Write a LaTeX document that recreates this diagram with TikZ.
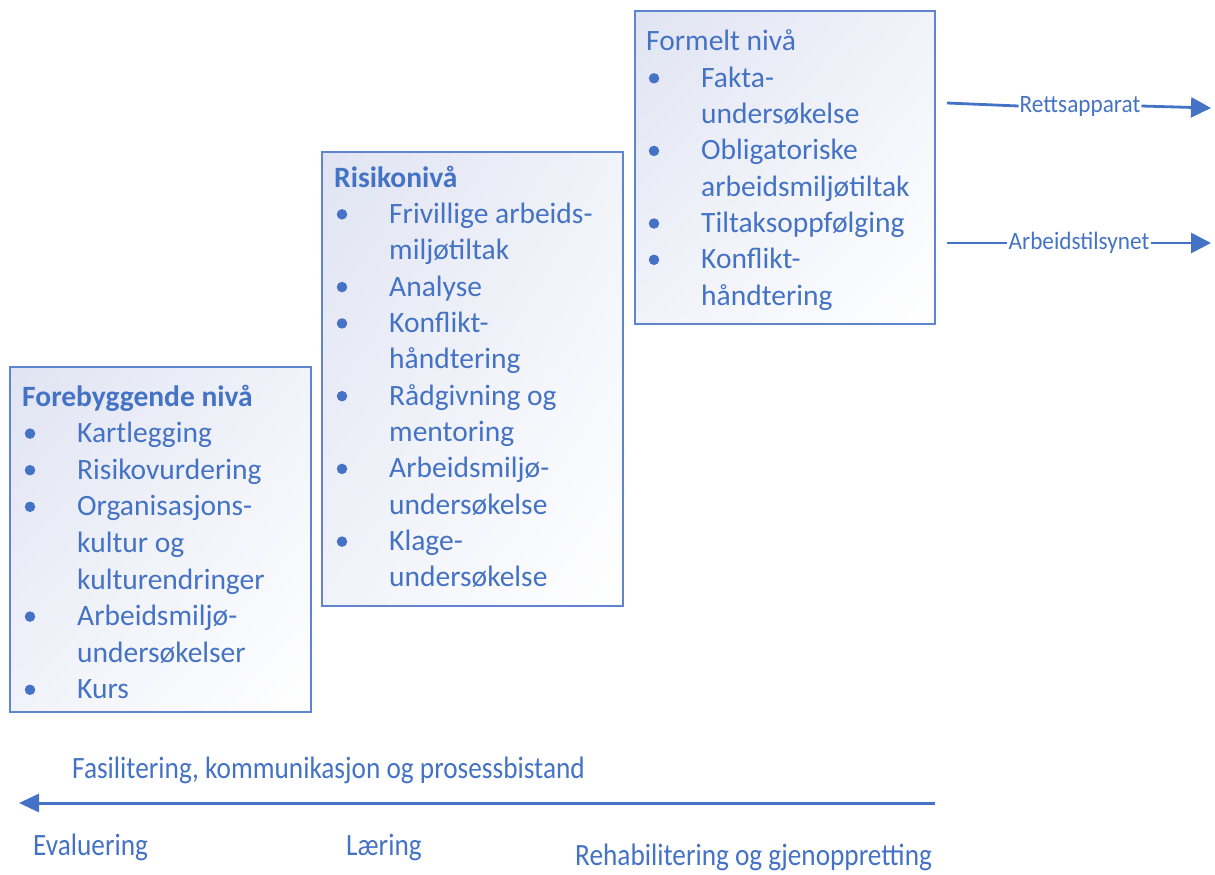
\documentclass[tikz,border=0pt]{standalone}
\usepackage{fontspec}
\setmainfont{Carlito}
\usetikzlibrary{arrows.meta,shadings}
\definecolor{tblue}{RGB}{68,114,196}
\definecolor{bline}{RGB}{96,132,208}
\definecolor{shadeA}{RGB}{224,228,242}
\definecolor{shadeB}{RGB}{241,243,250}
\tikzset{
  lvbox/.style={draw=bline, line width=2.6pt, upper left=shadeA, upper right=shadeB, lower left=shadeB, lower right=white},
  boxtext/.style={anchor=base west, inner sep=0pt, text=tblue, font=\fontsize{29.5}{36}\selectfont},
  bul/.style={circle, fill=tblue, inner sep=0pt, minimum size=10.5pt},
  sidetext/.style={text=tblue, inner sep=1pt, font=\fontsize{25}{30}\selectfont},
  bottomtext/.style={anchor=base west, inner sep=0pt, text=tblue, font=\fontsize{31}{36}\selectfont},
  flow/.style={draw=tblue, line width=2.8pt},
}
\begin{document}
\begin{tikzpicture}[x=1pt,y=-1pt]
\useasboundingbox (0,0) rectangle (1215,875);
% boxes
\path[lvbox] (10,367) rectangle (311,712);
\node[inner sep=0pt, minimum width=301pt, minimum height=345pt] (box1) at (160.5,539.5) {};
\path[lvbox] (322,152) rectangle (623,606);
\node[inner sep=0pt, minimum width=301pt, minimum height=454pt] (box2) at (472.5,379) {};
\path[lvbox] (635,11) rectangle (935,324);
\node[inner sep=0pt, minimum width=300pt, minimum height=313pt] (box3) at (785,167.5) {};

% box 1 text
\def\pa{36.6}
\node[boxtext, font=\fontsize{29.5}{36}\selectfont\bfseries] (f0) at (22,406) {Forebyggende nivå};
\foreach \i/\t in {1/Kartlegging,2/Risikovurdering,3/Organisasjons-,4/kultur og,5/kulturendringer,6/Arbeidsmiljø-,7/undersøkelser,8/Kurs}{
  \node[boxtext] (f\i) at (77,{406+\i*\pa}) {\t};
}
\foreach \i in {1,2,3,6,8}{
  \node[bul] (fb\i) at (30,{406+\i*\pa-9}) {};
}

% box 2 text
\def\pb{36.36}
\node[boxtext, font=\fontsize{29.5}{36}\selectfont\bfseries] (r0) at (334,187) {Risikonivå};
\foreach \i/\t in {1/Frivillige arbeids-,2/miljøtiltak,3/Analyse,4/Konflikt-,5/håndtering,6/Rådgivning og,7/mentoring,8/Arbeidsmiljø-,9/undersøkelse,10/Klage-,11/undersøkelse}{
  \node[boxtext] (r\i) at (389,{187+\i*\pb}) {\t};
}
\foreach \i in {1,3,4,6,8,10}{
  \node[bul] (rb\i) at (342,{187+\i*\pb-9}) {};
}

% box 3 text
\def\pc{36.3}
\node[boxtext] (m0) at (646,51) {Formelt nivå};
\foreach \i/\t in {1/Fakta-,2/undersøkelse,3/Obligatoriske,4/arbeidsmiljøtiltak,5/Tiltaksoppfølging,6/Konflikt-,7/håndtering}{
  \node[boxtext] (m\i) at (701,{51+\i*\pc}) {\t};
}
\foreach \i in {1,3,5,6}{
  \node[bul] (mb\i) at (654,{51+\i*\pc-9}) {};
}

% right arrows
\coordinate (ra) at (947,103);
\coordinate (rb) at (1211,108);
\node[sidetext] (rett) at (1080,106) {\scalebox{0.93}[1]{Rettsapparat}};
\draw[flow] (ra) -- (rett.west);
\draw[flow, -{Triangle[length=20pt,width=20pt]}] (rett.east) -- (rb);

\coordinate (aa) at (947,243);
\coordinate (ab) at (1211,243);
\node[sidetext] (arb) at (1079,243) {\scalebox{0.93}[1]{Arbeidstilsynet}};
\draw[flow] (aa) -- (arb.west);
\draw[flow, -{Triangle[length=20pt,width=20pt]}] (arb.east) -- (ab);

% bottom
\coordinate (bs) at (935,803);
\coordinate (be) at (19,803);
\draw[flow, line width=3pt, -{Triangle[length=20pt,width=18pt]}] (bs) -- (be);
\node[bottomtext] (fas) at (72,778) {\scalebox{0.88}[1]{Fasilitering, kommunikasjon og prosessbistand}};
\node[bottomtext] (eva) at (33,855) {\scalebox{0.88}[1]{Evaluering}};
\node[bottomtext] (lae) at (346,855) {\scalebox{0.88}[1]{Læring}};
\node[bottomtext] (reh) at (575,865) {\scalebox{0.88}[1]{Rehabilitering og gjenoppretting}};
\end{tikzpicture}
\end{document}
